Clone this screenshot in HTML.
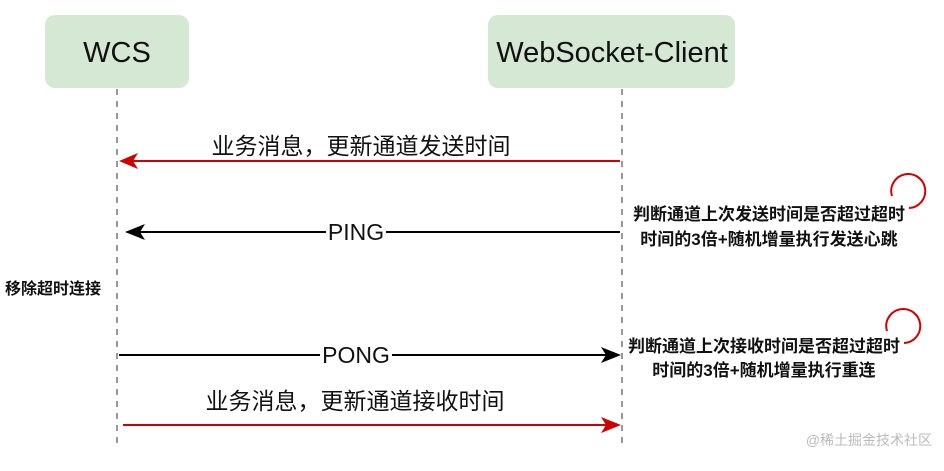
<!DOCTYPE html>
<html><head><meta charset="utf-8"><style>
body{margin:0;background:#fff;}
svg text{font-family:"Liberation Sans","Noto Sans CJK SC",sans-serif;}
</style></head><body>
<svg width="944" height="466" viewBox="0 0 944 466" xmlns="http://www.w3.org/2000/svg">
<rect x="45" y="15" width="144" height="73" rx="10" fill="#d5e8d4"/>
<text x="117" y="62" font-size="29" text-anchor="middle" fill="#111">WCS</text>
<rect x="488" y="15" width="247" height="73" rx="10" fill="#d5e8d4"/>
<text x="612" y="62" font-size="29" text-anchor="middle" fill="#111">WebSocket-Client</text>
<line x1="117" y1="89" x2="117" y2="448" stroke="#999" stroke-width="2" stroke-dasharray="6,6"/>
<line x1="622" y1="89" x2="622" y2="448" stroke="#999" stroke-width="2" stroke-dasharray="6,6"/>
<line x1="620" y1="161" x2="130" y2="161" stroke="#c00" stroke-width="2"/>
<polygon points="119,161 138,153 133,161 138,169" fill="#c00"/>
<text x="361" y="154" font-size="23" text-anchor="middle" fill="#111">业务消息，更新通道发送时间</text>
<line x1="620" y1="232" x2="386" y2="232" stroke="#000" stroke-width="2"/>
<line x1="326" y1="232" x2="135" y2="232" stroke="#000" stroke-width="2"/>
<polygon points="125,232 145,224 140,232 145,240" fill="#000"/>
<text x="356" y="240" font-size="23" text-anchor="middle" fill="#111">PING</text>
<line x1="119" y1="355" x2="320" y2="355" stroke="#000" stroke-width="2"/>
<line x1="392" y1="355" x2="610" y2="355" stroke="#000" stroke-width="2"/>
<polygon points="621,355 601,347 606,355 601,363" fill="#000"/>
<text x="356" y="363" font-size="23" text-anchor="middle" fill="#111">PONG</text>
<line x1="123" y1="425" x2="610" y2="425" stroke="#c00" stroke-width="2"/>
<polygon points="621,425 601,417 606,425 601,433" fill="#c00"/>
<text x="355" y="409" font-size="23" text-anchor="middle" fill="#111">业务消息，更新通道接收时间</text>
<text x="5" y="294" font-size="16" font-weight="bold" fill="#111">移除超时连接</text>
<text x="769" y="220" font-size="17" font-weight="bold" text-anchor="middle" fill="#111">判断通道上次发送时间是否超过超时</text>
<text x="769" y="245" font-size="17" font-weight="bold" text-anchor="middle" fill="#111">时间的3倍+随机增量执行发送心跳</text>
<text x="764" y="352" font-size="17" font-weight="bold" text-anchor="middle" fill="#111">判断通道上次接收时间是否超过超时</text>
<text x="764" y="376" font-size="17" font-weight="bold" text-anchor="middle" fill="#111">时间的3倍+随机增量执行重连</text>
<path d="M 892 196 A 17 17 0 1 1 909 208" fill="none" stroke="#c00" stroke-width="2"/>
<path d="M 887 331 A 17 17 0 1 1 904 343" fill="none" stroke="#c00" stroke-width="2"/>
<text x="932" y="445" font-size="14" text-anchor="end" fill="#bbb">@稀土掘金技术社区</text>
</svg>
</body></html>
